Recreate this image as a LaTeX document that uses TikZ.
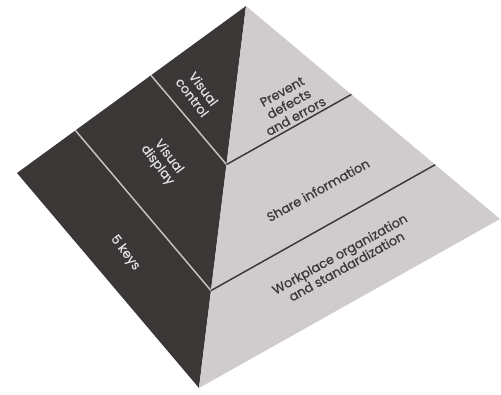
\documentclass[tikz,border=0pt]{standalone}
\usepackage{fontspec}
\setmainfont{Poppins}[FakeBold=0.6]
\usepackage{tikz}
\usetikzlibrary{calc}
\definecolor{faceDark}{HTML}{3B3737}
\definecolor{faceLight}{HTML}{D0CCCD}
\definecolor{lineLight}{HTML}{C8C4C4}
\definecolor{inkDark}{HTML}{3A3838}
\newcommand{\tikzPicScale}{0.75}
\newcommand\leftAngle{-53}
\newcommand\rightAngle{29}
\newcommand\tierWidth{1.1pt}
\tikzset{
    leftText/.style={text=white!88!black, rotate=\leftAngle, align=center,
        inner sep=0pt, font=\fontsize{9.6}{10.6}\selectfont},
    rightText/.style={text=inkDark, rotate=\rightAngle, align=center,
        inner sep=0pt, font=\fontsize{9.6}{10.6}\selectfont},
}

\begin{document}
\begin{tikzpicture}[x=\tikzPicScale pt, y=-\tikzPicScale pt]
        \useasboundingbox (0,0) rectangle (501,394);
        \coordinate (apex) at (246,6);
        \coordinate (lft) at (17,173);
        \coordinate (bot) at (199,388);
        \coordinate (rgt) at (500,219);

        % the two faces
        \fill[faceDark] (apex) -- (lft) -- (bot) -- cycle;
        \fill[faceLight] (apex) -- (bot) -- (rgt) -- cycle;

        % tier lines
        \foreach \t in {0.415,0.745}{
            \draw[lineLight, line width=\tierWidth] ($(apex)!\t!(lft)$) -- ($(apex)!\t!(bot)$);
            \draw[inkDark, line width=\tierWidth] ($(apex)!\t!(bot)$) -- ($(apex)!\t!(rgt)$);
        }

        \node[leftText] (ctrlTxt) at (198,93) {Visual\\control};
        \node[leftText] (dispTxt) at (163,161) {Visual\\display};
        \node[leftText] (keysTxt) at (125,253) {5 keys};

        \node[rightText] (prevTxt) at (289,104) {Prevent\\defects\\and errors};
        \node[rightText] (shareTxt) at (318,190) {Share information};
        \node[rightText] (workTxt) at (343,260) {Workplace organization\\and standardization};
    \end{tikzpicture}
\end{document}
